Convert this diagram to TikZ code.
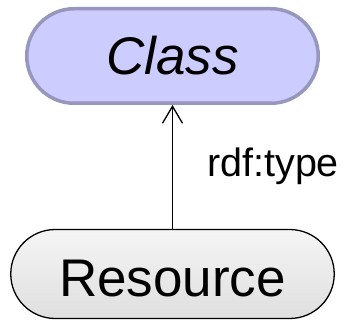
\documentclass[tikz,border=0pt]{standalone}
\usepackage{fontspec}
\setmainfont{Liberation Sans}
\usetikzlibrary{arrows.meta,shapes.misc}
\definecolor{classfill}{RGB}{204,204,255}
\definecolor{classline}{RGB}{150,150,190}
\tikzset{
  classbox/.style={rounded rectangle, draw=classline, line width=3.5pt,
    fill=classfill, minimum width=291.5pt, minimum height=94.5pt,
    inner sep=0pt, font=\fontsize{53}{60}\selectfont\itshape,
    text height=38pt, text depth=0pt},
  resbox/.style={rounded rectangle, draw=black, line width=1.3pt,
    top color=gray!8, bottom color=gray!25, minimum width=323.5pt,
    minimum height=89pt, inner sep=0pt,
    font=\fontsize{53}{60}\selectfont, text height=46pt, text depth=0pt},
  typearrow/.style={line width=1.3pt,
    -{Straight Barb[length=17pt,width=20pt,line width=1.3pt]}},
  edgelabel/.style={font=\fontsize{39.5}{45}\selectfont, inner sep=0pt,
    anchor=base west}
}
\begin{document}
\begin{tikzpicture}[x=1pt,y=-1pt]
  \useasboundingbox (0,0) rectangle (349,321);
  \node[classbox] (cls) at (172.5,56) {Class};
  \node[resbox] (res) at (172.5,274) {Resource};
  \draw[typearrow] (res.north) -- (cls.south);
  \node[edgelabel] (lbl) at (207,177) {rdf:type};
\end{tikzpicture}
\end{document}
